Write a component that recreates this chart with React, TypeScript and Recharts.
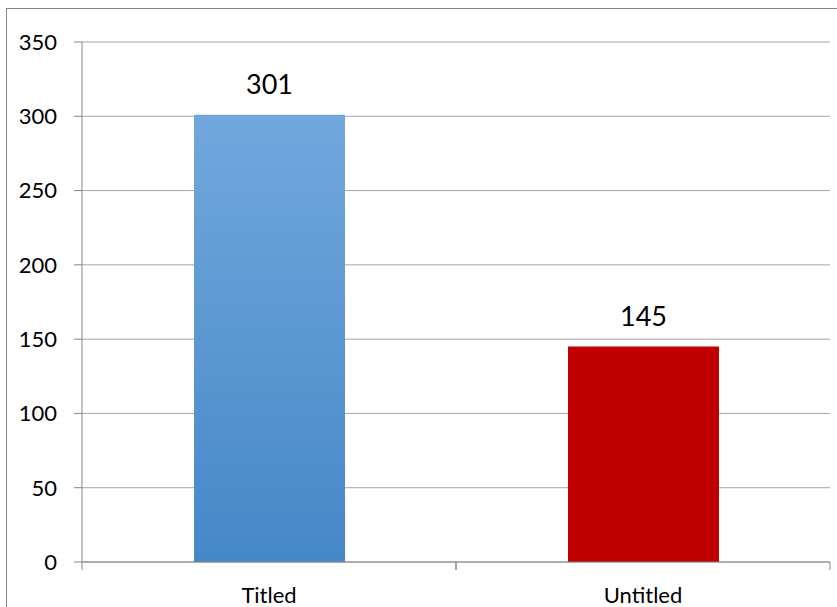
import React from 'react';
import {
  BarChart,
  Bar,
  XAxis,
  YAxis,
  CartesianGrid,
  Cell,
  LabelList,
} from 'recharts';

const categories = ['Titled', 'Untitled'];
const counts = [301, 145];
const yTicks = [0, 50, 100, 150, 200, 250, 300, 350];
const barColors = ['url(#titledFill)', '#c00000'];

const data = categories.map((name, i) => ({ name, count: counts[i] }));

const FONT = 'Lato, "Open Sans", sans-serif';
const AXIS_GREY = '#868686';
const GRID_GREY = '#a6a6a6';
const TICK_SIZE = 8;
const X_TICK_MARGIN = 17;

// category label plus tick marks on both edges of its band
const CategoryTick = (props: any) => {
  const { x, y, payload } = props;
  const half = payload?.offset ?? 0;
  const axisY = y - TICK_SIZE - X_TICK_MARGIN;
  return (
    <g>
      {half > 0 && (
        <>
          <line x1={x - half} x2={x - half} y1={axisY} y2={axisY + TICK_SIZE} stroke={AXIS_GREY} />
          <line x1={x + half} x2={x + half} y1={axisY} y2={axisY + TICK_SIZE} stroke={AXIS_GREY} />
        </>
      )}
      <text
        x={x}
        y={y}
        dy="0.71em"
        textAnchor="middle"
        fill="#000"
        fontSize={22}
        fontFamily={FONT}
      >
        {payload.value}
      </text>
    </g>
  );
};

const App: React.FC = () => {
  return (
    <div
      style={{
        position: 'absolute',
        left: 0,
        top: 0,
        width: 837,
        height: 607,
        overflow: 'hidden',
        background: '#fff',
      }}
    >
      <div
        style={{
          position: 'absolute',
          left: 6,
          top: 8,
          width: 860,
          height: 640,
          border: `1px solid ${AXIS_GREY}`,
        }}
      />
      <div style={{ position: 'absolute', left: 0, top: 0 }}>
        <BarChart
          width={837}
          height={607}
          data={data}
          margin={{ top: 42, right: 7, left: 0, bottom: 0 }}
          barSize={151}
        >
          <defs>
            <linearGradient id="titledFill" x1="0" y1="0" x2="0" y2="1">
              <stop offset="0%" stopColor="#72a7dd" />
              <stop offset="100%" stopColor="#4588c8" />
            </linearGradient>
          </defs>
          <CartesianGrid vertical={false} stroke={GRID_GREY} />
          <XAxis
            dataKey="name"
            height={45}
            axisLine={{ stroke: AXIS_GREY }}
            tickLine={false}
            tickSize={TICK_SIZE}
            tickMargin={X_TICK_MARGIN}
            tick={CategoryTick}
          />
          <YAxis
            width={82}
            domain={[0, 350]}
            ticks={yTicks}
            interval={0}
            axisLine={{ stroke: AXIS_GREY }}
            tickLine={{ stroke: AXIS_GREY }}
            tickSize={TICK_SIZE}
            tickMargin={17}
            tick={{ fill: '#000', fontSize: 22, fontFamily: FONT }}
          />
          <Bar dataKey="count" isAnimationActive={false}>
            {data.map((d, i) => (
              <Cell key={d.name} fill={barColors[i]} />
            ))}
            <LabelList
              dataKey="count"
              position="top"
              offset={21}
              fill="#000"
              fontSize={27}
              fontFamily={FONT}
            />
          </Bar>
        </BarChart>
      </div>
    </div>
  );
};

export default App;
